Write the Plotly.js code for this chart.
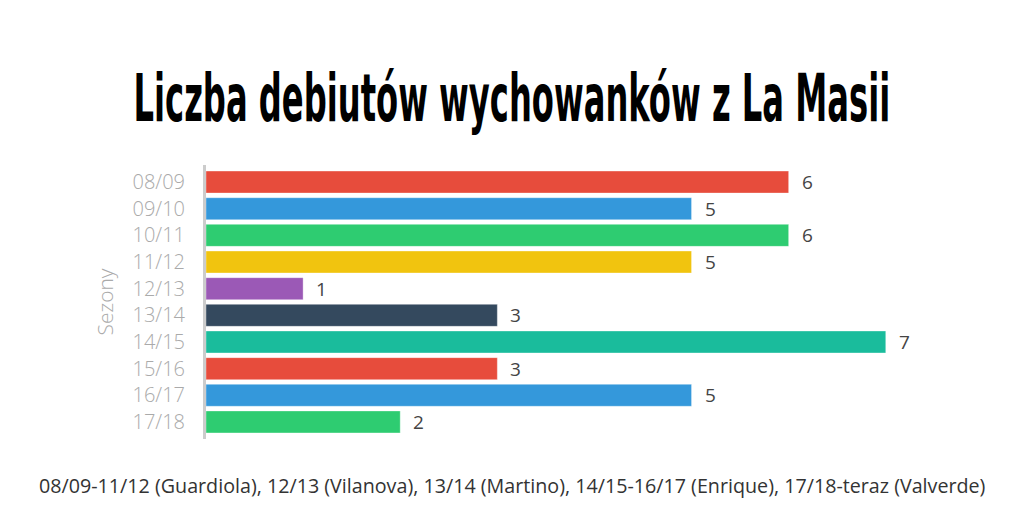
<!DOCTYPE html>
<html>
<head>
<meta charset="utf-8">
<script src="https://cdn.plot.ly/plotly-3.0.1.min.js"></script>
<style>html,body{margin:0;padding:0;background:#fff;}#chart{width:1024px;height:532px;}</style>
</head>
<body>
<div id="chart"></div>
<script>
var seasons = ["08/09","09/10","10/11","11/12","12/13","13/14","14/15","15/16","16/17","17/18"];
var debuts = [6,5,6,5,1,3,7,3,5,2];
var barColors = ["#e74c3c","#3498db","#2ecc71","#f1c40f","#9b59b6","#34495e","#1abc9c","#e74c3c","#3498db","#2ecc71"];
var titleText = "Liczba debiutów wychowanków z La Masii";
var yAxisTitle = "Sezony";
var footerText = "08/09-11/12 (Guardiola), 12/13 (Vilanova), 13/14 (Martino), 14/15-16/17 (Enrique), 17/18-teraz (Valverde)";

var trace = {
  type: "bar",
  orientation: "h",
  x: debuts,
  y: seasons,
  marker: {color: barColors, line: {color: "rgba(255,255,255,0.35)", width: 1}},
  hoverinfo: "none"
};

var paperW = 1024 - 206 - 12;
var cx = (512 - 206) / paperW;

var annotations = seasons.map(function(s, i){
  return {x: debuts[i], y: s, xref: "x", yref: "y", text: String(debuts[i]),
    showarrow: false, xanchor: "left", xshift: 11,
    font: {family: "Open Sans", size: 19, color: "#444"}};
});
annotations.push({xref: "paper", yref: "paper", x: cx, y: 0, xanchor: "center", yanchor: "middle",
  text: footerText, showarrow: false, yshift: -(485-439),
  font: {family: "Open Sans", size: 19.7, color: "#333"}});
annotations.push({xref: "paper", yref: "paper", x: cx, y: 1, xanchor: "center", yanchor: "middle",
  text: titleText, showarrow: false, yshift: (165-98),
  font: {family: "'DejaVu Sans'", size: 66, color: "#000", weight: "bold", style: "normal"}});

var layout = {
  width: 1024, height: 532,
  margin: {l: 206, r: 12, t: 165, b: 93},
  paper_bgcolor: "#fff", plot_bgcolor: "#fff",
  showlegend: false,
  bargap: 0.175,
  xaxis: {range: [0, 8.3], visible: false, fixedrange: true},
  yaxis: {
    type: "category",
    range: [9.64, -0.64],
    showline: true, linecolor: "#cccccc", linewidth: 3,
    showgrid: false, zeroline: false,
    ticks: "outside", ticklen: 14, tickcolor: "rgba(0,0,0,0)",
    tickfont: {family: "Open Sans", size: 20, color: "#aaaaaa", weight: 300},
    title: {text: yAxisTitle, standoff: 14, font: {family: "Open Sans", size: 21, color: "#aaaaaa", weight: 300}}
  },
  annotations: annotations
};

Plotly.newPlot("chart", [trace], layout, {displayModeBar: false, staticPlot: true}).then(function(gd){
  // condense the title horizontally to mimic the narrow display face
  var groups = gd.querySelectorAll(".annotation");
  var g = groups[groups.length - 1];
  var txt = g.querySelector("text");
  if (txt) {
    var bb = txt.getBBox();
    var targetW = 757;
    var sx = targetW / bb.width;
    var c = bb.x + bb.width / 2;
    txt.setAttribute("transform", "translate(" + c + ",0) scale(" + sx + ",1) translate(" + (-c) + ",0)");
  }
});
</script>
</body>
</html>
